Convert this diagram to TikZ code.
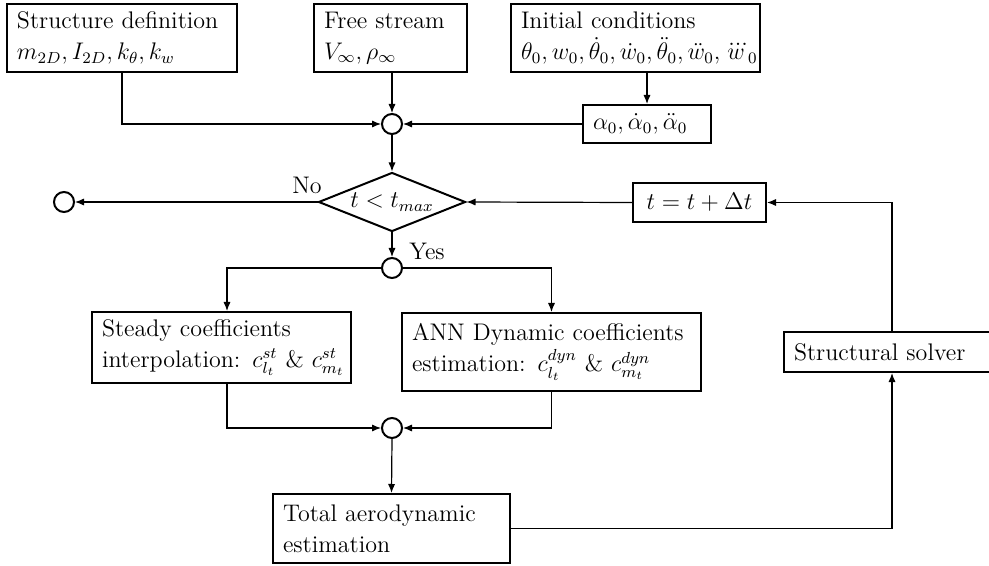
\documentclass[tikz,border=0pt]{standalone}
\usepackage{amsmath}
\usetikzlibrary{shapes.geometric,arrows.meta}
\begin{document}
\begin{tikzpicture}[x=0.5pt,y=-0.5pt,
  every node/.style={font=\fontsize{12}{15.5}\selectfont},
  box/.style={draw, line width=1pt, rectangle, align=left, inner xsep=5pt, inner ysep=0pt},
  junc/.style={draw, circle, line width=1pt, minimum size=10pt, inner sep=0pt},
  conn/.style={line width=0.6pt, -{Latex[length=4.5pt,width=3.6pt]}}]
\clip (0,0) rectangle (989,566);
\useasboundingbox (0,0) rectangle (989,566);
% boxes
\node[box, text width=105pt, minimum height=34pt] (struct) at (122,38) {\mbox{Structure definition}\\ \mbox{$m_{2D}, I_{2D}, k_\theta, k_w$}};
\node[box, text width=66.5pt, minimum height=34pt] (free) at (390.5,38) {\mbox{Free stream}\\ \mbox{$V_\infty, \rho_\infty$}};
\node[box, text width=114.5pt, minimum height=34pt] (init) at (635.5,38) {\mbox{Initial conditions}\\ \mbox{$\theta_0, w_0, \dot\theta_0, \dot w_0, \ddot\theta_0, \ddot w_0, \dddot w_0$}};
\node[box, text width=54pt, minimum height=19pt] (alpha) at (647,124) {\mbox{$\alpha_0, \dot\alpha_0, \ddot\alpha_0$}};
\node[box, align=center, text width=56.5pt, minimum height=19.5pt] (tbox) at (699.5,202.5) {\mbox{$t = t + \Delta t$}};
\node[box, text width=119.5pt, minimum height=35.5pt] (steady) at (221.5,347.5) {\mbox{Steady coefficients}\\ \mbox{interpolation: $c^{st}_{l_t}$ \& $c^{st}_{m_t}$}};
\node[box, text width=139.5pt, minimum height=39pt] (ann) at (551.5,352) {\mbox{ANN Dynamic coefficients}\\ \mbox{estimation: $c^{dyn}_{l_t}$ \& $c^{dyn}_{m_t}$}};
\node[box, text width=98pt, minimum height=20pt] (solver) at (892,352) {\mbox{Structural solver}};
\node[box, text width=108.5pt, minimum height=34.5pt] (total) at (391.5,528.5) {\mbox{Total aerodynamic}\\ \mbox{estimation}};
% decision
\node[draw, diamond, line width=1pt, minimum width=73.5pt, minimum height=29.5pt, inner sep=0pt, aspect=2.5] (dec) at (392,202) {$t < t_{max}$};
% junctions
\node[junc] (c1) at (392,124) {};
\node[junc] (cl) at (64,202) {};
\node[junc] (c2) at (392,268) {};
\node[junc] (c3) at (392,428) {};
% labels
\node (no) at (307,185) {No};
\node (yes) at (427,251) {Yes};
% connectors
\draw[conn] (struct.south) |- (c1.west);
\draw[conn] (free.south -| c1) -- (c1.north);
\draw[conn] (init.south -| alpha) -- (alpha.north);
\draw[conn] (alpha.west) -- (c1.east);
\draw[conn] (c1.south) -- (dec.north);
\draw[conn] (dec.west) -- (cl.east);
\draw[conn] (tbox.west) -- (dec.east);
\draw[conn] (dec.south) -- (c2.north);
\draw[conn] (c2.west) -| ([xshift=2.75pt]steady.north);
\draw[conn] (c2.east) -| (ann.north);
\draw[conn] ([xshift=2.75pt]steady.south) |- (c3.west);
\draw[conn] (ann.south) |- (c3.east);
\draw[conn] (c3.south) -- (total.north);
\draw[conn] (total.east) -| (solver.south);
\draw[conn] (solver.north) |- (tbox.east);
\end{tikzpicture}
\end{document}
